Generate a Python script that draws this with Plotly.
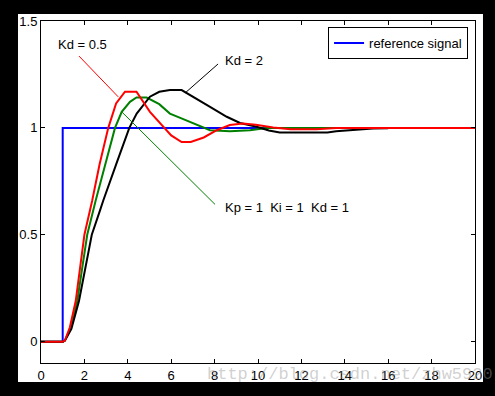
import plotly.graph_objects as go

# Reference step signal
x_ref = [0, 1.0, 1.0, 20]
y_ref = [0, 0, 1.0, 1.0]

# Kd = 0.5 (red)
x_red = [0, 1.0, 1.1, 1.33, 1.6, 2.0, 2.36, 2.7, 3.1, 3.46, 3.87, 4.4, 5.02, 5.64, 6.0, 6.48,
         6.9, 7.5, 8.1, 8.7, 9.3, 9.9, 10.3, 10.7, 11.5, 12.7, 13.6, 20]
y_red = [0, 0, 0.005, 0.067, 0.19, 0.5, 0.66, 0.83, 1.0, 1.114, 1.169, 1.169, 1.075, 1.005, 0.965, 0.934,
         0.934, 0.955, 0.989, 1.013, 1.02, 1.015, 1.008, 1.002, 0.994, 0.994, 1.0, 1.0]

# Kd = 1 (green)
x_green = [0, 1.0, 1.1, 1.4, 1.67, 2.13, 2.52, 3.0, 3.41, 3.72, 4.1, 4.4, 4.87, 5.45, 5.94, 6.5,
           7.02, 7.79, 8.71, 9.63, 10.4, 20]
y_green = [0, 0, 0.005, 0.07, 0.19, 0.5, 0.66, 0.84, 1.0, 1.075, 1.122, 1.142, 1.142, 1.111, 1.067, 1.043,
           1.02, 0.989, 0.984, 0.989, 0.999, 1.0]

# Kd = 2 (black)
x_black = [0, 1.0, 1.1, 1.4, 1.75, 2.34, 2.72, 2.87, 3.5, 4.07, 4.41, 5.02, 5.45, 5.94, 6.48, 7.02,
           7.79, 8.56, 9.17, 9.94, 10.5, 11.0, 13.2, 13.6, 14.4, 15.3, 16]
y_black = [0, 0, 0.004, 0.06, 0.19, 0.5, 0.614, 0.66, 0.84, 1.0, 1.067, 1.146, 1.169, 1.177, 1.177, 1.146,
           1.098, 1.052, 1.023, 1.005, 0.988, 0.978, 0.978, 0.984, 0.99, 0.997, 0.998]

x_ticks = [0, 2, 4, 6, 8, 10, 12, 14, 16, 18, 20]
y_ticks = [0, 0.5, 1, 1.5]
y_tick_labels = ["0", "0.5", "1", "1.5"]

FONT = "Liberation Sans, Arial, sans-serif"

fig = go.Figure()
fig.add_trace(go.Scatter(x=x_ref, y=y_ref, mode="lines", name="reference signal",
                         line=dict(color="#0000ff", width=2)))
fig.add_trace(go.Scatter(x=x_green, y=y_green, mode="lines", showlegend=False,
                         line=dict(color="#008000", width=2)))
fig.add_trace(go.Scatter(x=x_black, y=y_black, mode="lines", showlegend=False,
                         line=dict(color="#000000", width=2)))
fig.add_trace(go.Scatter(x=x_red, y=y_red, mode="lines", showlegend=False,
                         line=dict(color="#ff0000", width=2)))

# annotation leader lines
fig.add_shape(type="line", x0=1.75, y0=1.336, x1=3.56, y1=1.145, xref="x", yref="y",
              line=dict(color="#ff0000", width=1))
fig.add_shape(type="line", x0=8.16, y0=1.299, x1=6.64, y1=1.163, xref="x", yref="y",
              line=dict(color="#000000", width=1))
fig.add_shape(type="line", x0=3.72, y0=1.075, x1=8.02, y1=0.642, xref="x", yref="y",
              line=dict(color="#008000", width=1))

# white figure background
fig.add_shape(type="rect", xref="paper", yref="paper", x0=-0.053, x1=1.0184, y0=-0.0556, y1=1.0205,
              fillcolor="white", line=dict(width=0), layer="below")

ann_font = dict(family=FONT, size=13, color="black")
fig.add_annotation(x=0.69, y=1.388, text="Kd = 0.5", showarrow=False, xanchor="left", yanchor="middle", font=ann_font)
fig.add_annotation(x=8.39, y=1.317, text="Kd = 2", showarrow=False, xanchor="left", yanchor="middle", font=ann_font)
fig.add_annotation(x=8.37, y=0.628, text="Kp = 1  Ki = 1  Kd = 1", showarrow=False, xanchor="left",
                   yanchor="middle", font=ann_font)
fig.add_annotation(x=0.378, y=-0.035, xref="paper", yref="paper", text="http://blog.csdn.net/zhw5920",
                   showarrow=False, xanchor="left", yanchor="middle",
                   font=dict(family="Liberation Mono, monospace", size=17, color="rgba(150,150,150,0.45)"))

axis_common = dict(showline=True, linecolor="black", linewidth=1, mirror="ticks", ticks="inside",
                   ticklen=4, tickcolor="black", showgrid=False, zeroline=False,
                   tickfont=dict(family=FONT, size=13, color="black"))

fig.update_layout(
    width=495, height=396,
    margin=dict(l=41, r=20, t=21, b=33),
    paper_bgcolor="black", plot_bgcolor="white",
    font=dict(family=FONT, size=13, color="black"),
    xaxis=dict(range=[0, 20], tickvals=x_ticks, **axis_common),
    yaxis=dict(range=[-0.1, 1.5], tickvals=y_ticks, ticktext=y_tick_labels, **axis_common),
    legend=dict(x=0.984, y=0.982, xanchor="right", yanchor="top", bgcolor="white",
                bordercolor="black", borderwidth=1, font=dict(family=FONT, size=13, color="black"),
                itemwidth=30, tracegroupgap=0),
    showlegend=True,
)

fig.write_html("out.html", config={"displayModeBar": False},
               post_script="document.body.style.margin='0';document.body.style.background='black';"
                           "document.body.style.overflow='hidden';")
